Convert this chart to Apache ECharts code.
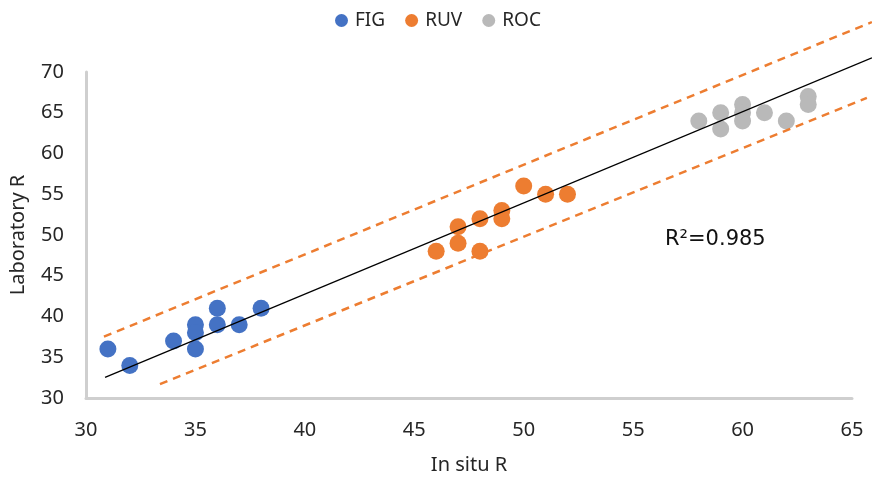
<!DOCTYPE html>
<html>
<head>
<meta charset="utf-8">
<script src="https://cdn.jsdelivr.net/npm/echarts@6/dist/echarts.min.js"></script>
<style>html,body{margin:0;padding:0;background:#fff}#c{width:872px;height:480px}</style>
</head>
<body>
<div id="c"></div>
<script>
// Data
var seriesNames = ['FIG', 'RUV', 'ROC'];
var figData = [[31,36],[32,34],[34,37],[35,39],[35,38],[35,36],[36,41],[36,39],[37,39],[38,41]];
var ruvData = [[46,48],[47,51],[47,49],[48,52],[48,48],[49,53],[49,52],[50,56],[51,55],[52,55]];
var rocData = [[58,64],[59,65],[59,63],[60,66],[60,65],[60,64],[61,65],[62,64],[63,67],[63,66]];
// segments: [xStart, yStart, xEnd, yEnd]
var trendLine = [[30.87, 32.52, 65.91, 71.74]];
var upperBound = [[30.82, 37.52, 65.91, 76.13]];
var lowerBound = [[33.38, 31.71, 65.68, 66.83]];
var xTicks = {min:30, max:65, interval:5};
var yTicks = {min:30, max:70, interval:5};
var r2Text = 'R²=0.985';

var font = 'Noto Sans';
var txt = '#262626';
var chart = echarts.init(document.getElementById('c'), null, {renderer:'canvas'});
function scatter(name, data, color){
  return {name:name, type:'scatter', data:data, symbolSize:17, itemStyle:{color:color, opacity:1}, z:2};
}
function segment(name, data, color, width, dash){
  return {name:name, type:'custom', data:data, z:5, clip:false, silent:true,
    encode:{x:[0,2], y:[1,3]},
    renderItem:function(params, api){
      var p1 = api.coord([api.value(0), api.value(1)]);
      var p2 = api.coord([api.value(2), api.value(3)]);
      return {type:'line', shape:{x1:p1[0], y1:p1[1], x2:p2[0], y2:p2[1]},
        style:{stroke:color, lineWidth:width, lineDash:dash || null, fill:null}};
    }};
}
chart.setOption({
  animation:false,
  textStyle:{fontFamily:font},
  legend:{data:seriesNames, top:6, left:330, icon:'circle', itemWidth:13, itemHeight:13, itemGap:20,
    textStyle:{fontSize:19, color:txt, fontFamily:font, padding:[0,0,0,2]}},
  grid:{left:86, right:20, top:72, bottom:80},
  xAxis:{type:'value', min:xTicks.min, max:xTicks.max, interval:xTicks.interval,
    name:'In situ R', nameLocation:'middle', nameGap:57, nameTextStyle:{fontSize:20, color:txt, fontFamily:font},
    axisLine:{show:true, lineStyle:{color:'#CFCFCF', width:3}}, axisTick:{show:false}, splitLine:{show:false},
    axisLabel:{fontSize:20, color:txt, margin:22, fontFamily:font}},
  yAxis:{type:'value', min:yTicks.min, max:yTicks.max, interval:yTicks.interval,
    name:'Laboratory R', nameLocation:'middle', nameGap:58, nameTextStyle:{fontSize:20, color:txt, fontFamily:font},
    axisLine:{show:true, lineStyle:{color:'#CFCFCF', width:3}}, axisTick:{show:false}, splitLine:{show:false},
    axisLabel:{fontSize:20, color:txt, margin:22, fontFamily:font}},
  graphic:[{type:'text', left:665, top:229, style:{text:r2Text, fontSize:21, fill:'#111', fontFamily:'DejaVu Sans'}}],
  series:[
    scatter('FIG', figData, '#4472C4'),
    scatter('RUV', ruvData, '#ED7D31'),
    scatter('ROC', rocData, '#B9B9B9'),
    segment('trend', trendLine, '#000', 1.3),
    segment('upper', upperBound, '#ED7D31', 2.5, [8,6]),
    segment('lower', lowerBound, '#ED7D31', 2.5, [8,6])
  ]
});
</script>
</body>
</html>
